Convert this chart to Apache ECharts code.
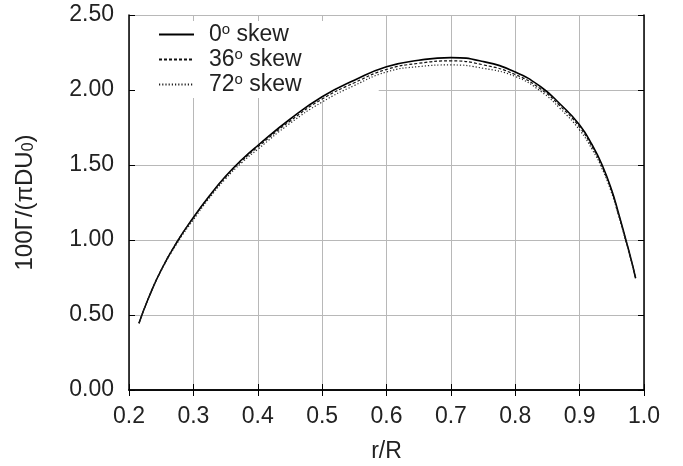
<!DOCTYPE html>
<html>
<head>
<meta charset="utf-8">
<script src="https://cdn.jsdelivr.net/npm/echarts@6/dist/echarts.min.js"></script>
<style>
  html, body { margin: 0; padding: 0; background: #fff; }
  #chart { width: 683px; height: 466px; }
</style>
</head>
<body>
<div id="chart"></div>
<script>
// r/R stations and circulation for the three skew angles
var rR = [0.2155, 0.23, 0.25, 0.275, 0.3, 0.325, 0.35, 0.375, 0.4, 0.45, 0.5, 0.55, 0.6, 0.65, 0.7, 0.75, 0.8, 0.84, 0.87, 0.9, 0.92, 0.935, 0.95, 0.96, 0.97, 0.98, 0.987];
var skew0 = [0.445, 0.61, 0.80, 0.99, 1.15, 1.295, 1.425, 1.535, 1.63, 1.805, 1.955, 2.065, 2.155, 2.198, 2.216, 2.19, 2.12, 2.02, 1.905, 1.767, 1.63, 1.50, 1.33, 1.185, 1.03, 0.87, 0.745];
var skew36 = [0.445, 0.61, 0.80, 0.99, 1.148, 1.291, 1.419, 1.527, 1.62, 1.792, 1.94, 2.048, 2.137, 2.178, 2.194, 2.168, 2.103, 2.005, 1.892, 1.752, 1.617, 1.488, 1.32, 1.177, 1.025, 0.867, 0.745];
var skew72 = [0.445, 0.608, 0.795, 0.98, 1.135, 1.28, 1.408, 1.515, 1.605, 1.777, 1.92, 2.03, 2.12, 2.156, 2.167, 2.145, 2.09, 1.99, 1.875, 1.733, 1.60, 1.475, 1.31, 1.17, 1.02, 0.865, 0.745];
var seriesNames = ['0', '36', '72'];

function pairs(ys) {
    return rR.map(function (x, i) { return [x, ys[i]]; });
}

var myChart = echarts.init(document.getElementById('chart'));
var font = 'Liberation Sans, Arial, sans-serif';

var option = {
    animation: false,
    backgroundColor: '#fff',
    grid: { left: 129, right: 39, top: 15, bottom: 76, outerBoundsMode: 'none' },
    legend: {
        orient: 'vertical',
        left: 135,
        top: 21,
        z: 1,
        padding: [1, 77, 1, 23],
        itemGap: 0,
        itemWidth: 35,
        itemHeight: 10,
        backgroundColor: '#fff',
        itemStyle: { opacity: 0 },
        data: seriesNames,
        formatter: function (n) { return '{a|' + n + '}{s|o}{b| skew}'; },
        textStyle: {
            fontFamily: font,
            fontSize: 23,
            color: '#222',
            lineHeight: 25,
            rich: {
                a: { fontFamily: font, fontSize: 23, color: '#222', padding: [0, 0, 0, 10], lineHeight: 25 },
                s: { fontFamily: font, fontSize: 15, color: '#222', lineHeight: 10, verticalAlign: 'top' },
                b: { fontFamily: font, fontSize: 23, color: '#222', lineHeight: 25 }
            }
        }
    },
    xAxis: [{
        type: 'value',
        min: 0.2, max: 1.0, interval: 0.1,
        name: 'r/R',
        nameLocation: 'middle',
        nameGap: 50,
        nameTextStyle: { fontFamily: font, fontSize: 23, color: '#222' },
        axisLine: { lineStyle: { color: '#000', width: 1.5 } },
        axisTick: { inside: true, length: 6, lineStyle: { color: '#000' } },
        axisLabel: { fontFamily: font, fontSize: 23, color: '#222', margin: 15,
            formatter: function (v) { return v.toFixed(1); } },
        splitLine: { show: true, lineStyle: { color: '#b8b8b8', width: 1 } }
    }, {
        type: 'value', position: 'top',
        min: 0.2, max: 1.0, interval: 0.1,
        axisLine: { lineStyle: { color: '#000', width: 1.5 } },
        axisTick: { inside: true, length: 6, lineStyle: { color: '#000' } },
        axisLabel: { show: false },
        splitLine: { show: false }
    }],
    yAxis: [{
        type: 'value',
        min: 0, max: 2.5, interval: 0.5,
        name: '100Γ/(πDU{sub|0})',
        nameLocation: 'middle',
        nameGap: 92,
        nameTextStyle: { fontFamily: font, fontSize: 24, color: '#222',
            rich: { sub: { fontFamily: font, fontSize: 16, color: '#222', lineHeight: 8, verticalAlign: 'bottom' } } },
        axisLine: { lineStyle: { color: '#000', width: 1.5 } },
        axisTick: { inside: true, length: 6, lineStyle: { color: '#000' } },
        axisLabel: { fontFamily: font, fontSize: 23, color: '#222', margin: 15,
            formatter: function (v) { return v.toFixed(2); } },
        splitLine: { show: true, lineStyle: { color: '#b8b8b8', width: 1 } }
    }, {
        type: 'value', position: 'right',
        min: 0, max: 2.5, interval: 0.5,
        axisLine: { lineStyle: { color: '#000', width: 1.5 } },
        axisTick: { inside: true, length: 6, lineStyle: { color: '#000' } },
        axisLabel: { show: false },
        splitLine: { show: false }
    }],
    series: [
        {
            name: '0', type: 'line', smooth: 0.5, symbol: 'none',
            data: pairs(skew0),
            lineStyle: { color: '#000', width: 1.6, type: 'solid' },
            itemStyle: { color: '#000' }
        },
        {
            name: '36', type: 'line', smooth: 0.5, symbol: 'none',
            data: pairs(skew36),
            lineStyle: { color: '#111', width: 1.2, type: [3, 2] },
            itemStyle: { color: '#111' }
        },
        {
            name: '72', type: 'line', smooth: 0.5, symbol: 'none',
            data: pairs(skew72),
            lineStyle: { color: '#222', width: 1.2, type: [1.2, 2] },
            itemStyle: { color: '#222' }
        }
    ]
};

myChart.setOption(option);
</script>
</body>
</html>
